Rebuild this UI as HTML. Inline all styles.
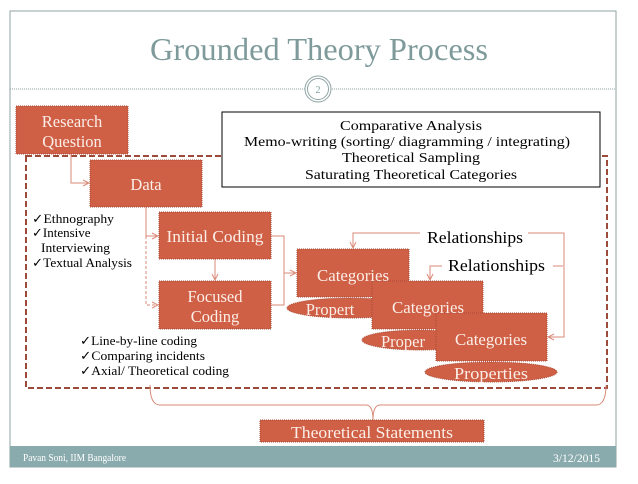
<!DOCTYPE html>
<html><head><style>
body{margin:0;width:638px;height:479px;background:#fff;font-family:"Liberation Serif",serif;overflow:hidden}
</style></head><body>
<svg width="638" height="479" xmlns="http://www.w3.org/2000/svg" font-family="Liberation Serif, serif">
<defs><marker id="a" markerWidth="8" markerHeight="8" refX="7" refY="4" orient="auto"><path d="M1,1 L7,4 L1,7" fill="none" stroke="#d98a78" stroke-width="1"/></marker></defs>
<rect x="10" y="11" width="606" height="456" fill="none" stroke="#8fa3a3" stroke-width="1"/>
<rect x="10" y="446" width="606" height="21" fill="#8aabad"/>
<text x="23" y="461" font-size="11" fill="#fff" textLength="103" lengthAdjust="spacingAndGlyphs">Pavan Soni, IIM Bangalore</text>
<text x="553" y="462" font-size="12" fill="#fff" textLength="47" lengthAdjust="spacingAndGlyphs">3/12/2015</text>
<text x="150" y="60" font-size="32" fill="#7f9a9a" textLength="338" lengthAdjust="spacingAndGlyphs">Grounded Theory Process</text>
<line x1="10" y1="89" x2="616" y2="89" stroke="#8fa3a3" stroke-dasharray="1,1"/>
<circle cx="318" cy="89" r="13" fill="#fff" stroke="#8fa3a3"/><circle cx="318" cy="89" r="10.5" fill="none" stroke="#8fa3a3"/>
<text x="318" y="93" font-size="10" fill="#7f9a9a" text-anchor="middle">2</text>
<rect x="26" y="156" width="581" height="232" fill="none" stroke="#9c4a3a" stroke-width="2" stroke-dasharray="6,3"/>
<g stroke="#d98a78" fill="none" stroke-width="1">
<path d="M71,154 V183 H89" marker-end="url(#a)"/>
<path d="M146,207 V236 H158" marker-end="url(#a)"/>
<path d="M146,236 V305 H158" stroke-dasharray="3,2" marker-end="url(#a)"/>
<path d="M215,259 V280" marker-end="url(#a)"/>
<path d="M271,236 H284 V305 H271 M284,273 H296" marker-end="url(#a)"/>
<path d="M420,233 H353 V248" marker-end="url(#a)"/>
<path d="M528,233 H564 V337 H548" marker-end="url(#a)"/>
<path d="M442,266 H430 V280" marker-end="url(#a)"/>
<path d="M553,266 H563"/>
<path d="M150,385 Q150,405 160,405 H366 Q373,405 373,420 Q373,405 380,405 H596 Q606,405 606,385"/>
</g>
<g fill="#cf5f45" stroke="#a84a36" stroke-dasharray="1,1">
<rect x="16" y="106" width="112" height="48"/>
<rect x="90" y="160" width="112" height="47"/>
<rect x="159" y="212" width="112" height="47"/>
<rect x="159" y="281" width="112" height="48"/>
<ellipse cx="350" cy="308" rx="63" ry="10"/>
<rect x="297" y="249" width="112" height="48"/>
<ellipse cx="420" cy="340" rx="58" ry="10"/>
<rect x="372" y="281" width="111" height="48"/>
<ellipse cx="491" cy="372" rx="66" ry="10"/>
<rect x="436" y="313" width="111" height="48"/>
<rect x="260" y="420" width="224" height="22"/>
</g>
<g fill="#fbeee8" font-size="16.5" text-anchor="middle">
<text x="72" y="127">Research</text><text x="72" y="147">Question</text>
<text x="146" y="190">Data</text>
<text x="215" y="242" textLength="97" lengthAdjust="spacingAndGlyphs">Initial Coding</text>
<text x="215" y="302">Focused</text><text x="215" y="322">Coding</text>
<text x="353" y="281" textLength="72" lengthAdjust="spacingAndGlyphs">Categories</text>
<text x="330" y="315">Propert</text>
<text x="428" y="313" textLength="72" lengthAdjust="spacingAndGlyphs">Categories</text>
<text x="403" y="347">Proper</text>
<text x="491" y="345" textLength="72" lengthAdjust="spacingAndGlyphs">Categories</text>
<text x="491" y="379" textLength="74" lengthAdjust="spacingAndGlyphs">Properties</text>
<text x="372" y="438" textLength="162" lengthAdjust="spacingAndGlyphs">Theoretical Statements</text>
</g>
<rect x="222" y="112" width="378" height="75" fill="#fff" stroke="#000"/>
<g font-size="14" text-anchor="middle" fill="#000">
<text x="411" y="130" textLength="142" lengthAdjust="spacingAndGlyphs">Comparative Analysis</text>
<text x="407" y="146" textLength="326" lengthAdjust="spacingAndGlyphs">Memo-writing (sorting/ diagramming / integrating)</text>
<text x="411" y="162" textLength="138" lengthAdjust="spacingAndGlyphs">Theoretical Sampling</text>
<text x="411" y="179" textLength="212" lengthAdjust="spacingAndGlyphs">Saturating Theoretical Categories</text>
</g>
<text x="427" y="243" font-size="17" textLength="96" lengthAdjust="spacingAndGlyphs">Relationships</text>
<text x="448" y="271" font-size="17" textLength="97" lengthAdjust="spacingAndGlyphs">Relationships</text>
<g font-size="13" fill="#000">
<text x="32" y="223" textLength="82" lengthAdjust="spacingAndGlyphs">✓Ethnography</text>
<text x="32" y="237">✓Intensive</text>
<text x="41" y="252" textLength="69" lengthAdjust="spacingAndGlyphs">Interviewing</text>
<text x="32" y="267" textLength="100" lengthAdjust="spacingAndGlyphs">✓Textual Analysis</text>
<text x="80" y="345" textLength="117" lengthAdjust="spacingAndGlyphs">✓Line-by-line coding</text>
<text x="80" y="360" textLength="125" lengthAdjust="spacingAndGlyphs">✓Comparing incidents</text>
<text x="80" y="375" textLength="149" lengthAdjust="spacingAndGlyphs">✓Axial/ Theoretical coding</text>
</g>
</svg>
</body></html>
